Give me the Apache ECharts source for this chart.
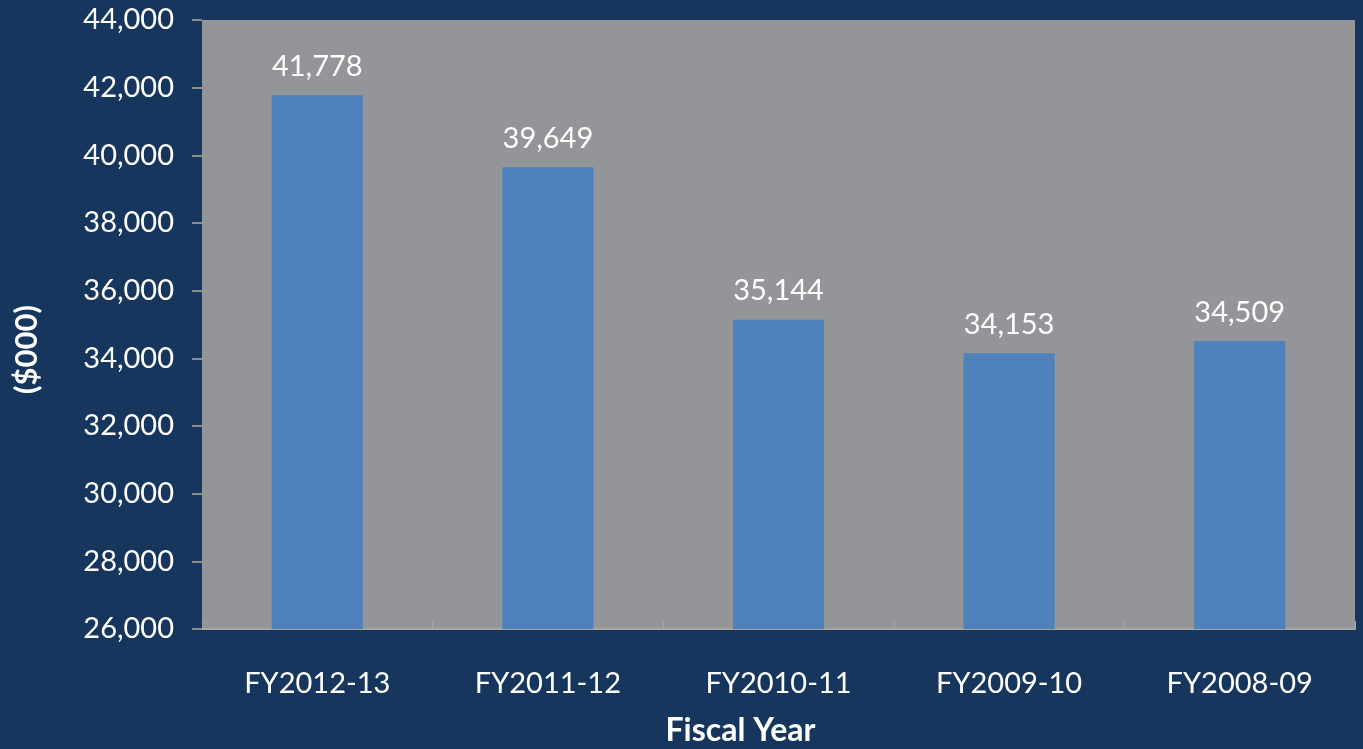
<!DOCTYPE html>
<html>
<head>
<meta charset="utf-8">
<script src="https://cdn.jsdelivr.net/npm/echarts@6/dist/echarts.min.js"></script>
<style>
  html, body { margin: 0; padding: 0; background: #17365d; }
  #chart { width: 1363px; height: 749px; }
</style>
</head>
<body>
<div id="chart"></div>
<script>
var categories = ["FY2012-13", "FY2011-12", "FY2010-11", "FY2009-10", "FY2008-09"];
var values = [41778, 39649, 35144, 34153, 34509];
var yMin = 26000, yMax = 44000, yStep = 2000;

var chart = echarts.init(document.getElementById("chart"));
var font = "Lato";

chart.setOption({
  backgroundColor: "#17365d",
  animation: false,
  grid: {
    left: 202,
    right: 8,
    top: 20,
    bottom: 120,
    outerBoundsMode: "none",
    show: true,
    backgroundColor: "#939598",
    borderWidth: 0
  },
  xAxis: {
    type: "category",
    data: categories,
    name: "Fiscal Year",
    nameLocation: "middle",
    nameGap: 86,
    nameTextStyle: {
      color: "#ffffff", fontSize: 32, fontWeight: "bold", fontFamily: font,
      padding: [0, 76, 0, 0]
    },
    axisLine: { lineStyle: { color: "#a6a6a6", width: 2 } },
    axisTick: { show: true, inside: true, length: 8, lineStyle: { color: "#a6a6a6" } },
    axisLabel: { color: "#ffffff", fontSize: 29, fontFamily: font, margin: 40 }
  },
  yAxis: {
    type: "value",
    min: yMin,
    max: yMax,
    interval: yStep,
    name: "($000)",
    nameLocation: "middle",
    nameRotate: 90,
    nameGap: 160,
    nameTextStyle: {
      color: "#ffffff", fontSize: 31, fontWeight: "bold", fontFamily: font,
      padding: [0, 50, 0, 0]
    },
    splitLine: { show: false },
    axisLine: { show: false },
    axisTick: { show: true, length: 10, lineStyle: { color: "#8c8c8c", width: 2 } },
    axisLabel: {
      color: "#ffffff",
      fontSize: 29,
      fontFamily: font,
      margin: 28,
      formatter: function (v) { return v.toLocaleString("en-US"); }
    }
  },
  series: [{
    type: "bar",
    data: values,
    barWidth: "39.5%",
    itemStyle: { color: "#4f81bd" },
    label: {
      show: true,
      position: "top",
      distance: 14,
      color: "#ffffff",
      fontSize: 29,
      fontFamily: font,
      formatter: function (p) { return p.value.toLocaleString("en-US"); }
    }
  }]
});
</script>
</body>
</html>
